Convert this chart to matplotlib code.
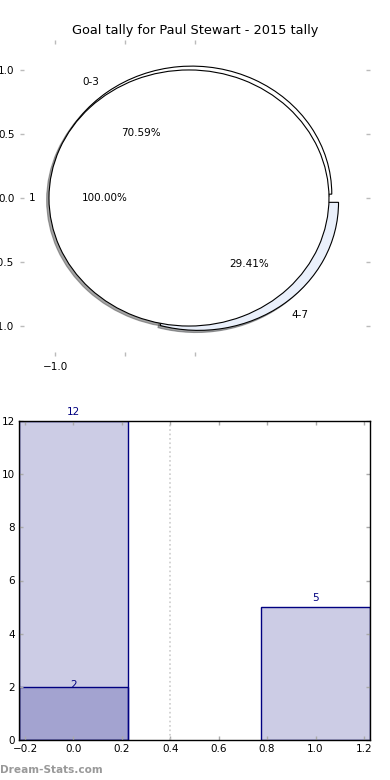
import matplotlib
matplotlib.use("Agg")
import matplotlib.pyplot as plt

title = "Goal tally for Paul Stewart - 2015 tally"
outer_labels = ["1"]
outer_values = [17]
inner_labels = ["0-3", "4-7"]
inner_values = [12, 5]
inner_explode = [0.0, 0.08]

bar_x = [0, 1]
bar_all = [12, 5]
bar_sub = [2, 0]

fig = plt.figure(figsize=(3.9, 7.8), dpi=100)

# --- pie axes ---
ax1 = fig.add_axes([20/390, 1-356/780, 350/390, 316/780])
shadow_kw = dict(ox=-0.012, oy=-0.012, alpha=0.5)
ax1.pie(inner_values, labels=inner_labels, explode=inner_explode,
        colors=["white", "#eaf0fb"], autopct="%.2f%%", startangle=0,
        shadow=shadow_kw, center=(-0.023, 0.03), radius=1.0, frame=True,
        wedgeprops=dict(edgecolor="black", linewidth=0.8),
        textprops=dict(fontsize=7.5))
ax1.pie(outer_values, labels=outer_labels, colors=["white"],
        autopct="%.2f%%", startangle=0, shadow=shadow_kw,
        center=(-0.043, 0.0), radius=1.0, frame=True,
        wedgeprops=dict(edgecolor="black", linewidth=0.8),
        textprops=dict(fontsize=7.5))
ax1.set_aspect("auto")
ax1.set_xlim(-1.25, 1.25)
ax1.set_ylim(-1.234, 1.234)
for s in ax1.spines.values():
    s.set_visible(False)
ax1.set_xticks([-1.0, -0.5, 0.0])
ax1.set_xticklabels(["\u22121.0", "", ""])
ax1.set_yticks([-1.0, -0.5, 0.0, 0.5, 1.0])
ax1.set_yticklabels(["\u22121.0", "\u22120.5", "0.0", "0.5", "1.0"])
ax1.tick_params(direction="in", length=3, width=1, color="#bbbbbb",
                top=True, right=True, labelsize=7.5, pad=4)
ax1.set_title(title, fontsize=9.3, pad=4)

# --- bar axes ---
ax2 = fig.add_axes([19/390, 40/780, 351/390, 319/780])
ax2.bar(bar_x, bar_all, width=0.45, color="navy", alpha=0.2)
ax2.bar(bar_x, bar_all, width=0.45, facecolor="none", edgecolor="navy", linewidth=1)
ax2.bar(bar_x[:1], bar_sub[:1], width=0.45, color="navy", alpha=0.2)
ax2.bar(bar_x[:1], bar_sub[:1], width=0.45, facecolor="none", edgecolor="navy", linewidth=1)
for x, h in zip(bar_x, bar_all):
    ax2.annotate(str(h), (x, h), xytext=(0, 3), textcoords="offset points",
                 ha="center", va="bottom", color="navy", fontsize=7.5)
for x, h in zip(bar_x[:1], bar_sub[:1]):
    ax2.annotate(str(h), (x, h), xytext=(0, -2), textcoords="offset points",
                 ha="center", va="bottom", color="navy", fontsize=7.5)
ax2.axvline(0.4, color="#cccccc", linestyle=":", linewidth=1.2)
ax2.set_xlim(-0.225, 1.225)
ax2.set_ylim(0, 12)
ax2.set_xticks([-0.2, 0.0, 0.2, 0.4, 0.6, 0.8, 1.0, 1.2])
ax2.set_xticklabels(["\u22120.2", "0.0", "0.2", "0.4", "0.6", "0.8", "1.0", "1.2"])
ax2.set_yticks([0, 2, 4, 6, 8, 10, 12])
ax2.tick_params(direction="in", length=3, width=1, color="#aaaaaa",
                top=True, right=True, labelsize=7.5, pad=3)
for s in ax2.spines.values():
    s.set_linewidth(1)

fig.text(0.0, 0.006, "Dream-Stats.com", color="#999999", fontsize=7.6,
         fontweight="bold", ha="left", va="bottom")

fig.savefig("out.png", dpi=100)
